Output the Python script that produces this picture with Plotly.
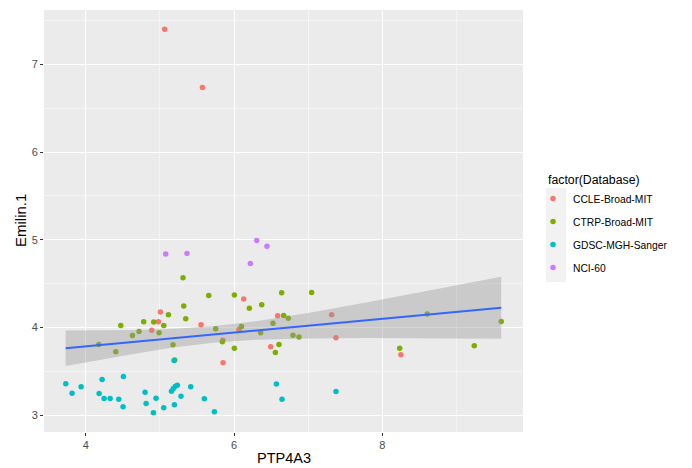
import plotly.graph_objects as go

# ---- data ----
ccle_x = [5.065, 5.574, 5.007, 4.98, 5.555, 4.89, 6.131, 6.067, 6.589, 7.318, 7.376, 5.85, 6.495, 5.852, 8.252]
ccle_y = [7.40, 6.734, 4.176, 4.066, 4.032, 3.970, 4.324, 3.978, 4.134, 4.146, 3.883, 3.856, 3.781, 3.598, 3.69]

ctrp_x = [5.312, 5.659, 5.322, 5.115, 5.349, 4.782, 4.917, 5.052, 4.472, 5.753, 4.719, 4.989, 4.63, 5.177,
          4.175, 4.405, 5.2, 6.005, 6.207, 6.374, 6.643, 7.048, 6.1, 6.67, 6.733, 6.526, 6.36, 6.796, 6.877,
          5.843, 6.005, 6.607, 6.558, 8.607, 9.606, 8.236, 9.242]
ctrp_y = [4.568, 4.366, 4.244, 4.146, 4.100, 4.066, 4.062, 4.024, 4.024, 3.986, 3.955, 3.941, 3.910, 3.804,
          3.807, 3.724, 3.63, 4.37, 4.221, 4.26, 4.397, 4.40, 4.013, 4.138, 4.107, 4.05, 3.941, 3.913, 3.891,
          3.838, 3.765, 3.807, 3.716, 4.153, 4.07, 3.765, 3.792]

gdsc_x = [5.191, 3.73, 3.815, 3.937, 4.22, 4.508, 4.18, 4.247, 4.328, 4.445, 4.503, 4.8, 4.814, 4.948,
          4.913, 5.052, 5.196, 5.156, 5.182, 5.209, 5.236, 5.285, 5.416, 5.6, 5.735, 6.572, 6.648, 7.376]
gdsc_y = [3.625, 3.359, 3.252, 3.325, 3.408, 3.442, 3.249, 3.192, 3.192, 3.184, 3.097, 3.263, 3.135, 3.195,
          3.028, 3.085, 3.12, 3.275, 3.306, 3.332, 3.343, 3.218, 3.325, 3.188, 3.04, 3.355, 3.184, 3.271]

nci_x = [5.079, 5.366, 6.306, 6.445, 6.221]
nci_y = [4.837, 4.845, 4.993, 4.925, 4.731]

databases = ["CCLE-Broad-MIT", "CTRP-Broad-MIT", "GDSC-MGH-Sanger", "NCI-60"]

# linear smooth and its confidence band
fit_x = [3.728, 4.2, 4.7, 5.2, 5.75, 6.3, 7.0, 7.8, 8.7, 9.606]
fit_y = [3.764, 3.801, 3.840, 3.880, 3.923, 3.966, 4.021, 4.084, 4.155, 4.226]
fit_hi = [3.966, 3.967, 3.972, 3.986, 4.017, 4.072, 4.166, 4.288, 4.432, 4.579]
fit_lo = [3.562, 3.635, 3.708, 3.774, 3.829, 3.860, 3.876, 3.880, 3.878, 3.873]

x_ticks = [4, 6, 8]
y_ticks = [3, 4, 5, 6, 7]

# ---- styling ----
colors = ["#F8766D", "#7CAE00", "#00BFC4", "#C77CFF"]
series = [(ccle_x, ccle_y), (ctrp_x, ctrp_y), (gdsc_x, gdsc_y), (nci_x, nci_y)]

fig = go.Figure()
for name, col, (xs, ys) in zip(databases, colors, series):
    fig.add_trace(go.Scatter(x=xs, y=ys, mode="markers", name=name, legendgroup=name,
                             marker=dict(color=col, size=5.5, line=dict(width=0))))

fig.add_trace(go.Scatter(x=fit_x + fit_x[::-1], y=fit_hi + fit_lo[::-1],
                         fill="toself", fillcolor="rgba(153,153,153,0.4)", line=dict(width=0),
                         mode="lines", showlegend=False, hoverinfo="skip"))
fig.add_trace(go.Scatter(x=fit_x, y=fit_y, mode="lines", line=dict(color="#3366FF", width=2),
                         showlegend=False))

all_x = sum([s[0] for s in series], [])
all_y = sum([s[1] for s in series], [])
dx = max(all_x) - min(all_x)
dy = max(all_y) - min(all_y)
xr = [min(all_x) - 0.05 * dx, max(all_x) + 0.05 * dx]
yr = [min(all_y) - 0.05 * dy, max(all_y) + 0.05 * dy]

axis_common = dict(showline=False, zeroline=False, gridcolor="white", gridwidth=1.2,
                   ticks="outside", ticklen=3, tickcolor="#333333", tickwidth=1,
                   automargin=False, tickfont=dict(size=11, color="#4D4D4D"))

# page body adds an 8px offset; work in screen pixels and convert
OFF = 8
L, T = 44 - OFF, 10 - OFF
PW, PH = 479, 422
R, B = 692 - L - PW, 468 - T - PH

def sx(p):
    return (p - OFF - L) / PW

def sy(p):
    return (T + PH - (p - OFF)) / PH

fig.update_layout(
    width=692, height=468,
    margin=dict(l=L, r=R, t=T, b=B),
    paper_bgcolor="white", plot_bgcolor="#EBEBEB",
    font=dict(family="Liberation Sans, Arial, sans-serif", color="black"),
    xaxis=dict(range=xr, tickvals=x_ticks, ticktext=[str(v) for v in x_ticks],
               minor=dict(dtick=1, tick0=0, gridcolor="#F5F5F5", gridwidth=0.6, ticks=""),
               **axis_common),
    yaxis=dict(range=yr, tickvals=y_ticks, ticktext=[str(v) for v in y_ticks],
               minor=dict(dtick=0.5, tick0=0, gridcolor="#F5F5F5", gridwidth=0.6, ticks=""),
               **axis_common),
    legend=dict(font=dict(size=10.3), x=sx(533), y=sy(184), xanchor="left", yanchor="top",
                traceorder="grouped", tracegroupgap=4, itemwidth=30,
                bgcolor="rgba(0,0,0,0)"),
    annotations=[
        dict(text="factor(Database)", xref="paper", yref="paper", x=sx(546), y=sy(180),
             xanchor="left", yanchor="middle", showarrow=False, font=dict(size=12.3)),
        dict(text="PTP4A3", xref="paper", yref="paper", x=sx(283.5), y=sy(458),
             xanchor="center", yanchor="middle", showarrow=False, font=dict(size=14.5)),
        dict(text="Emilin.1", xref="paper", yref="paper", x=sx(20), y=sy(221), textangle=-90,
             xanchor="center", yanchor="middle", showarrow=False, font=dict(size=15)),
    ],
    shapes=[dict(type="rect", xref="paper", yref="paper", x0=sx(546), x1=sx(566),
                 y0=sy(282), y1=sy(188), fillcolor="#F2F2F2",
                 line=dict(width=0), layer="below")],
    showlegend=True,
)

fig.write_html("out.html")
